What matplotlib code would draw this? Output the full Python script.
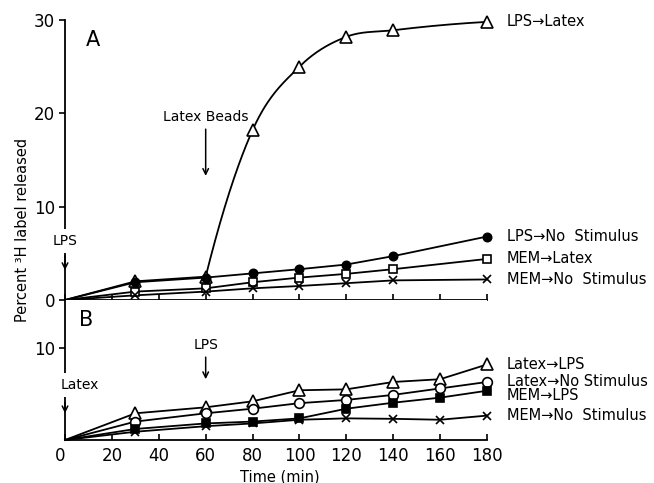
import numpy as np
import matplotlib
matplotlib.use("Agg")
import matplotlib.pyplot as plt

# Panel A: cells pre-treated, second stimulus at 60 min
time_a = [0, 30, 60, 80, 100, 120, 140, 180]
lps_latex = [0, 2.0, 2.5, 18.2, 25.0, 28.2, 28.9, 29.8]
lps_none = [0, 1.9, 2.4, 2.85, 3.3, 3.8, 4.7, 6.8]
mem_latex = [0, 0.9, 1.25, 1.9, 2.4, 2.8, 3.3, 4.4]
mem_none_a = [0, 0.5, 0.9, 1.25, 1.5, 1.8, 2.1, 2.2]

# Panel B
time_b = [0, 30, 60, 80, 100, 120, 140, 160, 180]
latex_lps = [0, 2.9, 3.55, 4.2, 5.4, 5.5, 6.3, 6.6, 8.2]
latex_none = [0, 2.0, 2.9, 3.4, 4.0, 4.35, 4.9, 5.6, 6.3]
mem_lps = [0, 1.2, 1.8, 2.0, 2.35, 3.4, 4.05, 4.6, 5.35]
mem_none_b = [0, 0.9, 1.5, 1.8, 2.2, 2.35, 2.3, 2.2, 2.65]

x_ticks = [0, 20, 40, 60, 80, 100, 120, 140, 160, 180]


def smooth(x, y, n=300):
    """cubic Hermite curve through the points, slopes from neighbouring secants"""
    x = np.asarray(x, float)
    y = np.asarray(y, float)
    h = np.diff(x)
    d = np.diff(y) / h
    m = np.zeros_like(y)
    for k in range(1, len(x) - 1):
        m[k] = (d[k - 1] * h[k] + d[k] * h[k - 1]) / (h[k - 1] + h[k])
    if len(x) > 2:
        m[0] = max(0.0, ((2 * h[0] + h[1]) * d[0] - h[0] * d[1]) / (h[0] + h[1]))
        m[-1] = max(0.0, ((2 * h[-1] + h[-2]) * d[-1] - h[-1] * d[-2]) / (h[-1] + h[-2]))
    else:
        m[:] = d[0]
    xs = np.linspace(x[0], x[-1], n)
    idx = np.clip(np.searchsorted(x, xs) - 1, 0, len(h) - 1)
    t = (xs - x[idx]) / h[idx]
    h00 = 2 * t**3 - 3 * t**2 + 1
    h10 = t**3 - 2 * t**2 + t
    h01 = -2 * t**3 + 3 * t**2
    h11 = t**3 - t**2
    ys = h00 * y[idx] + h10 * h[idx] * m[idx] + h01 * y[idx + 1] + h11 * h[idx] * m[idx + 1]
    return xs, ys


def draw_series(ax, t, v, marker, face, size, label, label_dy=0.0, curve_from=None):
    # straight segments, or a smooth curve after the stimulus
    if curve_from is None:
        ax.plot(t, v, color="black", lw=1.3, zorder=3, clip_on=False)
    else:
        ax.plot(t[:curve_from + 1], v[:curve_from + 1], color="black", lw=1.3,
                zorder=3, clip_on=False)
        xs, ys = smooth(t[curve_from:], v[curve_from:])
        ax.plot(xs, ys, color="black", lw=1.3, zorder=3, clip_on=False)
    # markers (not at the origin)
    ax.plot(t[1:], v[1:], ls="none", marker=marker, ms=size, mfc=face,
            mec="black", mew=1.2, zorder=4, clip_on=False)
    ax.text(188.5, v[-1] + label_dy, label, fontsize=10.5, va="center",
            ha="left", clip_on=False)


def style_axes(ax):
    ax.spines["top"].set_visible(False)
    ax.spines["right"].set_visible(False)
    for s in ["left", "bottom"]:
        ax.spines[s].set_linewidth(1.3)
    ax.set_xlim(0, 180)
    ax.set_xticks(x_ticks)
    ax.tick_params(axis="x", direction="in", length=4, width=1.2, labelsize=12, pad=5)
    ax.tick_params(axis="y", direction="out", length=4, width=1.2, labelsize=12, pad=3)


fig = plt.figure(figsize=(6.54, 4.83), dpi=100)
ax_a = fig.add_axes([0.0994, 0.3789, 0.6453, 0.5797])
ax_b = fig.add_axes([0.0994, 0.0890, 0.6453, 0.2899])

# ---- panel A ----
style_axes(ax_a)
ax_a.set_ylim(0, 30)
ax_a.set_yticks([0, 10, 20, 30])
ax_a.set_xticklabels([])
draw_series(ax_a, time_a, lps_latex, "^", "white", 9, "LPS→Latex", curve_from=2)
draw_series(ax_a, time_a, lps_none, "o", "black", 6, "LPS→No  Stimulus")
draw_series(ax_a, time_a, mem_latex, "s", "white", 6, "MEM→Latex")
draw_series(ax_a, time_a, mem_none_a, "x", "none", 6, "MEM→No  Stimulus")

ax_a.text(12, 27.9, "A", fontsize=15, ha="center", va="center")
ax_a.annotate("Latex Beads", xy=(60, 13.0), xytext=(60, 18.9), ha="center",
              va="bottom", fontsize=10,
              arrowprops=dict(arrowstyle="->", lw=1.1, color="black"))
ax_a.annotate("LPS", xy=(0, 2.9), xytext=(0, 5.6), ha="center", va="bottom",
              fontsize=10, annotation_clip=False,
              bbox=dict(boxstyle="square,pad=0.35", fc="white", ec="none"),
              arrowprops=dict(arrowstyle="->", lw=1.1, color="black"))

# ---- panel B ----
style_axes(ax_b)
ax_b.set_ylim(0, 15.2)
ax_b.set_yticks([10])
draw_series(ax_b, time_b, latex_lps, "^", "white", 9, "Latex→LPS")
draw_series(ax_b, time_b, latex_none, "o", "white", 7, "Latex→No Stimulus")
draw_series(ax_b, time_b, mem_lps, "s", "black", 6, "MEM→LPS", label_dy=-0.55)
draw_series(ax_b, time_b, mem_none_b, "x", "none", 6, "MEM→No  Stimulus")
ax_b.get_xticklabels()[0].set_ha("right")

ax_b.text(9, 13.0, "B", fontsize=15, ha="center", va="center")
ax_b.annotate("LPS", xy=(60, 6.3), xytext=(60, 9.6), ha="center", va="bottom",
              fontsize=10, arrowprops=dict(arrowstyle="->", lw=1.1, color="black"))
ax_b.text(6.5, 5.2, "Latex", fontsize=10, ha="center", va="bottom",
          bbox=dict(boxstyle="square,pad=0.35", fc="white", ec="none"), zorder=5)
ax_b.annotate("", xy=(0, 2.6), xytext=(0, 4.4), annotation_clip=False,
              arrowprops=dict(arrowstyle="->", lw=1.1, color="black"))

fig.text(0.035, 0.524, "Percent ³H label released", rotation=90,
         ha="center", va="center", fontsize=10.5)
fig.text(0.428, 0.013, "Time (min)", ha="center", va="center", fontsize=10.5)

fig.savefig("out.png", dpi=100)
